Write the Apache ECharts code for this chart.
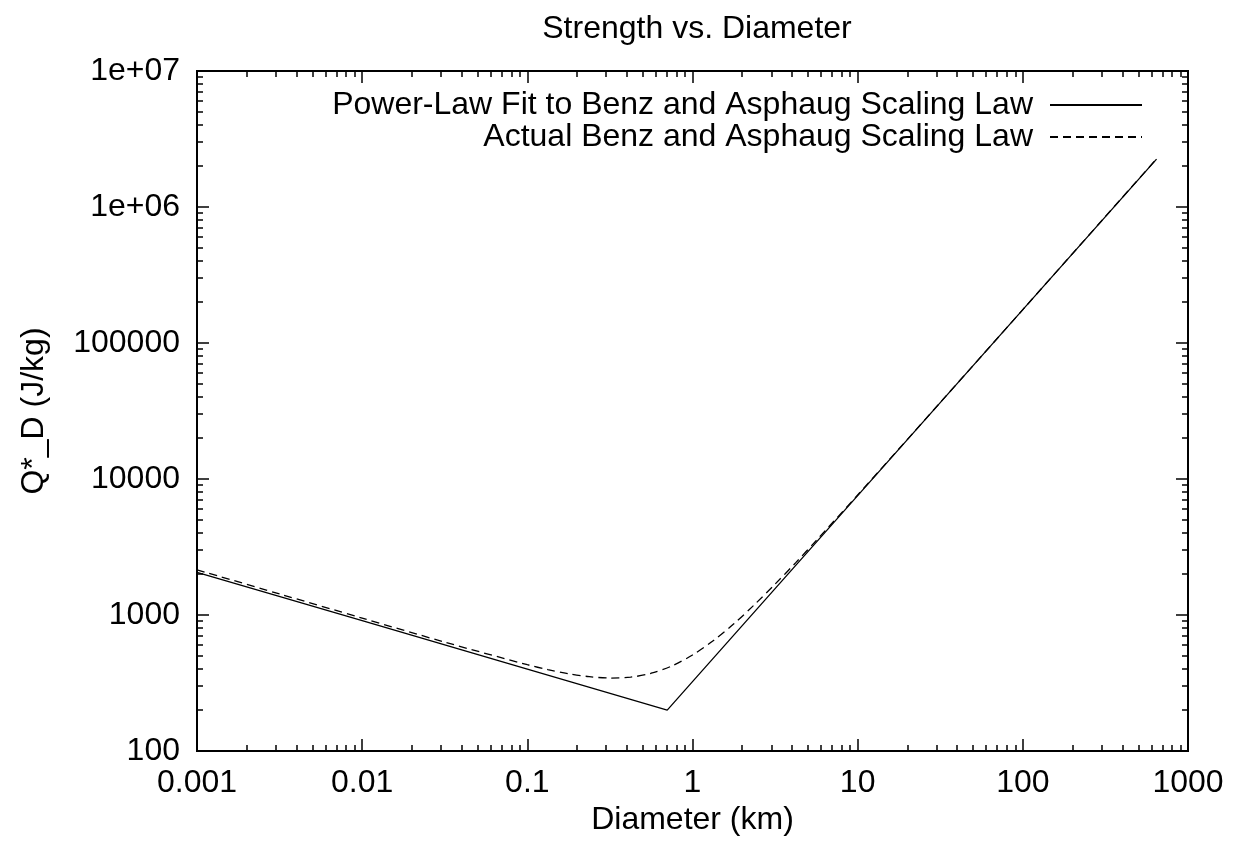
<!DOCTYPE html>
<html>
<head>
<meta charset="utf-8">
<script src="https://cdn.jsdelivr.net/npm/echarts@6/dist/echarts.min.js"></script>
<style>
html,body{margin:0;padding:0;background:#fff;}
#chart{width:1237px;height:854px;}
</style>
</head>
<body>
<div id="chart"></div>
<script>
// ---- data ----
var seriesNames = ['Power-Law Fit to Benz and Asphaug Scaling Law', 'Actual Benz and Asphaug Scaling Law'];

// Power-law fit (solid): diameter (km), Q*_D (J/kg)
var fitD = [0.001, 0.01, 0.1, 0.703, 1, 10, 100, 645];
var fitQ = [2056, 909, 400, 200, 324, 7550, 176000, 2250000];

// Actual Benz & Asphaug (dashed)
var actD = [0.001, 0.00316, 0.01, 0.0316, 0.1, 0.133, 0.178, 0.237, 0.316, 0.422, 0.562, 0.75, 1, 1.334, 1.78, 2.37, 3.16, 4.22, 5.62, 10, 31.6, 100, 316, 645];
var actQ = [2150, 1428, 949, 632, 431, 397, 370, 352, 344, 349, 373, 422, 508, 646, 861, 1190, 1685, 2427, 3535, 7632, 36500, 176000, 851000, 2260000];

// axes
var xTickValues = [0.001, 0.01, 0.1, 1, 10, 100, 1000];
var xTickLabels = ['0.001', '0.01', '0.1', '1', '10', '100', '1000'];
var yTickValues = [100, 1000, 10000, 100000, 1000000, 10000000];
var yTickLabels = ['100', '1000', '10000', '100000', '1e+06', '1e+07'];

function minorTicks(lo, hi) {
  var out = [];
  for (var e = lo; e < hi; e++) {
    for (var m = 2; m <= 9; m++) out.push(m * Math.pow(10, e));
  }
  return out;
}
var xMinor = minorTicks(-3, 3);
var yMinor = minorTicks(2, 7);

function pick(vals, labels) {
  return function (v) {
    for (var i = 0; i < vals.length; i++) {
      if (Math.abs(Math.log10(v) - Math.log10(vals[i])) < 1e-6) return labels[i];
    }
    return '';
  };
}

var FONT = 'Liberation Sans, Arial, sans-serif';
var FS = 32;

function axis(pos, majorVals, minorVals, extra, isMinor) {
  var o = {
    type: 'log', logBase: 10, position: pos, gridIndex: 0,
    axisLine: { show: false },
    splitLine: { show: false },
    axisTick: {
      show: true, inside: true, length: isMinor ? 6 : 12,
      customValues: isMinor ? minorVals : majorVals,
      lineStyle: { color: '#000', width: 1.5 }
    },
    axisLabel: { show: false }
  };
  for (var k in extra) o[k] = extra[k];
  return o;
}

var xExt = { min: 0.001, max: 1000 };
var yExt = { min: 100, max: 10000000 };

var xAxes = [
  Object.assign(axis('bottom', xTickValues, xMinor, xExt, false), {
    name: 'Diameter (km)', nameLocation: 'middle', nameGap: 40,
    nameTextStyle: { fontFamily: FONT, fontSize: FS, color: '#000' },
    axisLabel: { show: true, customValues: xTickValues, formatter: pick(xTickValues, xTickLabels),
      margin: 16, fontFamily: FONT, fontSize: FS, color: '#000' }
  }),
  axis('bottom', xTickValues, xMinor, xExt, true),
  axis('top', xTickValues, xMinor, xExt, false),
  axis('top', xTickValues, xMinor, xExt, true)
];
var yAxes = [
  Object.assign(axis('left', yTickValues, yMinor, yExt, false), {
    name: 'Q*_D (J/kg)', nameLocation: 'middle', nameGap: 147, nameRotate: 90,
    nameTextStyle: { fontFamily: FONT, fontSize: FS, color: '#000' },
    axisLabel: { show: true, customValues: yTickValues, formatter: pick(yTickValues, yTickLabels),
      margin: 17, fontFamily: FONT, fontSize: FS, color: '#000' }
  }),
  axis('left', yTickValues, yMinor, yExt, true),
  axis('right', yTickValues, yMinor, yExt, false),
  axis('right', yTickValues, yMinor, yExt, true)
];

function pairs(a, b) { return a.map(function (v, i) { return [v, b[i]]; }); }

var legendBase = {
  right: 89, orient: 'vertical', align: 'right',
  itemWidth: 92, itemHeight: 12, itemGap: 10,
  itemStyle: { opacity: 0 },
  textStyle: { fontFamily: FONT, fontSize: FS, color: '#000', padding: [0, 12, 0, 0] }
};

var chart = echarts.init(document.getElementById('chart'), null, { renderer: 'canvas' });
chart.setOption({
  animation: false,
  backgroundColor: '#fff',
  title: {
    text: 'Strength vs. Diameter', left: 692, textAlign: 'center', top: 8,
    textStyle: { fontFamily: FONT, fontSize: FS, fontWeight: 'normal', color: '#000' }
  },
  grid: { left: 197, right: 49, top: 71, bottom: 103, show: true, borderColor: '#000', borderWidth: 2, backgroundColor: 'transparent' },
  legend: [
    Object.assign({ data: [seriesNames[0]], top: 84 }, legendBase),
    Object.assign({ data: [seriesNames[1]], top: 116 }, legendBase)
  ],
  xAxis: xAxes,
  yAxis: yAxes,
  series: [
    { name: seriesNames[0], type: 'line', data: pairs(fitD, fitQ), symbol: 'none',
      lineStyle: { color: '#000', width: 1.3, type: 'solid' }, itemStyle: { color: '#000' } },
    { name: seriesNames[1], type: 'line', data: pairs(actD, actQ), symbol: 'none', smooth: 0.3,
      lineStyle: { color: '#000', width: 1.3, type: [8, 5] }, itemStyle: { color: '#000' } }
  ]
});
</script>
</body>
</html>
